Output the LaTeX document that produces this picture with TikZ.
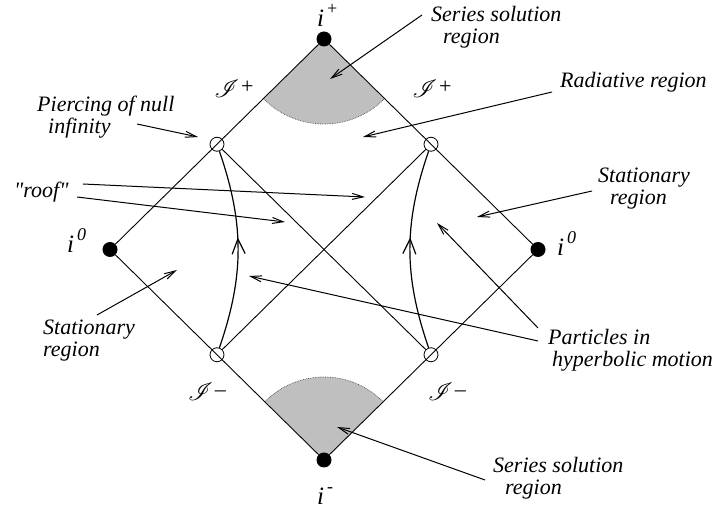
\documentclass[tikz,border=0pt]{standalone}
\usepackage{fontspec}
\setmainfont{Liberation Serif}
\usepackage{mathrsfs}
\usetikzlibrary{arrows.meta,decorations.markings,backgrounds}

\newcommand{\ipt}[1]{{\fontsize{25}{25}\selectfont\textit{i}}\kern3pt\raisebox{0.55em}{\fontsize{18}{18}\selectfont #1}}
\newcommand{\scri}[1]{{\fontsize{30}{30}\selectfont$\mathscr{I}$}\kern2pt\raisebox{4pt}{#1}}

\begin{document}
\begin{tikzpicture}[x=1pt, y=1pt, >={Straight Barb[length=11pt,width=6pt]},
    every node/.style={font=\fontsize{22}{22}\selectfont},
    dot/.style={circle,fill,inner sep=0pt,minimum size=15pt},
    hole/.style={circle,draw,inner sep=0pt,minimum size=14pt,line width=0.8pt},
    note/.style={font=\fontsize{22}{22}\selectfont\itshape,inner sep=0pt,align=left,anchor=base west},
    pointer/.style={->,line width=1pt},
    worldline/.style={line width=1.2pt,postaction={decorate},
      decoration={markings,mark=at position 0.56 with {\arrow{Straight Barb[length=15pt,width=13pt,line width=1.2pt]}}}}]
    \useasboundingbox (0,0) rectangle (716,512);

    % corners of the diagram
    \node[dot] (iplus) at (324,473) {};
    \node[dot] (iminus) at (324,52) {};
    \node[dot] (izl) at (110,262.5) {};
    \node[dot] (izr) at (538,262.5) {};

    % where the particles pierce null infinity
    \node[hole] (ptl) at (217,367.75) {};
    \node[hole] (pbl) at (217,157.25) {};
    \node[hole] (ptr) at (431,367.75) {};
    \node[hole] (pbr) at (431,157.25) {};

    % labels of the corners
    \node[anchor=base west,inner sep=0pt] (lplus) at (317,485) {\ipt{+}};
    \node[anchor=base west,inner sep=0pt] (lminus) at (317,7) {\ipt{-}};
    \node[anchor=base west,inner sep=0pt] (lzl) at (67,259) {\ipt{\textit{0}}};
    \node[anchor=base west,inner sep=0pt] (lzr) at (557,256) {\ipt{\textit{0}}};

    % scri labels
    \node (scritl) at (234,423) {\scri{+}};
    \node (scritr) at (432,423) {\scri{+}};
    \node (scribl) at (207,120) {\scri{--}};
    \node (scribr) at (447,120) {\scri{--}};

    % shaded regions near i+ and i-
    \begin{scope}[on background layer]
    \fill[black!25] (iplus.center) -- ++(225:85) arc[start angle=225,end angle=315,radius=85] -- cycle;
    \draw[densely dotted,black!70,line width=0.7pt] (iplus.center) ++(225:85) arc[start angle=225,end angle=315,radius=85];
    \fill[black!25] (iminus.center) -- ++(135:83) arc[start angle=135,end angle=45,radius=83] -- cycle;
    \draw[densely dotted,black!70,line width=0.7pt] (iminus.center) ++(135:83) arc[start angle=135,end angle=45,radius=83];
    \end{scope}

    % null boundaries
    \draw[line width=0.9pt] (iplus) -- (izl) -- (iminus) -- (izr) -- (iplus);

    % light rays between the piercing points
    \draw[line width=0.9pt] (ptl) -- (pbr);
    \draw[line width=0.9pt] (pbl) -- (ptr);

    % world lines of the particles
    \draw[worldline] (pbl) to[bend right=19] (ptl);
    \draw[worldline] (pbr) to[bend left=19] (ptr);

    % annotations (base is the last line)
    \node[note] (sertop) at (431,468) {Series solution\\\hspace*{12pt}region};
    \node[note] (radiative) at (560,424) {Radiative region};
    \node[note] (piercing) at (37,378) {Piercing of null\\\hspace*{11pt}infinity};
    \node[note] (roof) at (14,314) {\textquotedbl roof\textquotedbl};
    \node[note] (statl) at (43,155) {Stationary\\region};
    \node[note] (statr) at (598,307) {Stationary\\\hspace*{12pt}region};
    \node[note] (particles) at (548,145) {Particles in\\\hspace*{4pt}hyperbolic motion};
    \node[note] (serbot) at (493,17) {Series solution\\\hspace*{12pt}region};

    \coordinate (sertop-from) at (422,497);
    \coordinate (sertop-to) at (330,433);
    \coordinate (radiative-from) at (552,420);
    \coordinate (radiative-to) at (363,375);
    \coordinate (piercing-from) at (137,388);
    \coordinate (piercing-to) at (198,375);
    \coordinate (roof-from1) at (83,328);
    \coordinate (roof-to1) at (365,315);
    \coordinate (roof-from2) at (77,315);
    \coordinate (roof-to2) at (285,290);
    \coordinate (statl-from) at (97,197);
    \coordinate (statl-to) at (177,242);
    \coordinate (statr-from) at (592,321);
    \coordinate (statr-to) at (477,295);
    \coordinate (particles-from1) at (538,184);
    \coordinate (particles-to1) at (437,289);
    \coordinate (particles-from2) at (538,171);
    \coordinate (particles-to2) at (249,236);
    \coordinate (serbot-from) at (485,32);
    \coordinate (serbot-to) at (337,85);

    \draw[pointer] (sertop-from) -- (sertop-to);
    \draw[pointer] (radiative-from) -- (radiative-to);
    \draw[pointer] (piercing-from) -- (piercing-to);
    \draw[pointer] (roof-from1) -- (roof-to1);
    \draw[pointer] (roof-from2) -- (roof-to2);
    \draw[pointer] (statl-from) -- (statl-to);
    \draw[pointer] (statr-from) -- (statr-to);
    \draw[pointer] (particles-from1) -- (particles-to1);
    \draw[pointer] (particles-from2) -- (particles-to2);
    \draw[pointer] (serbot-from) -- (serbot-to);
\end{tikzpicture}
\end{document}
